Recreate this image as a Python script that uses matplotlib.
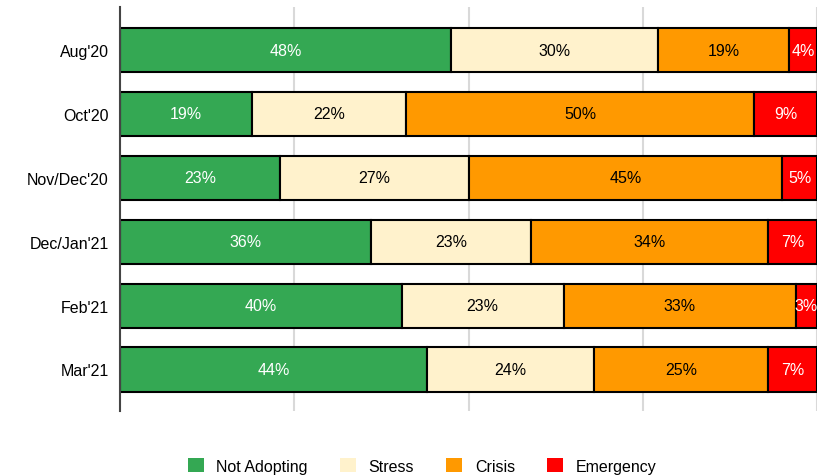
import matplotlib.pyplot as plt
import numpy as np

plt.rcParams['font.family'] = ['Liberation Sans', 'DejaVu Sans']

# Periods (top to bottom) and category shares (%)
periods = ["Aug'20", "Oct'20", "Nov/Dec'20", "Dec/Jan'21", "Feb'21", "Mar'21"]
not_adopting = [48, 19, 23, 36, 40, 44]
stress = [30, 22, 27, 23, 23, 24]
crisis = [19, 50, 45, 34, 33, 25]
emergency = [4, 9, 5, 7, 3, 7]

categories = ['Not Adopting', 'Stress', 'Crisis', 'Emergency']
colors = ['#34a853', '#fff2cc', '#ff9900', '#ff0000']
text_colors = ['white', 'black', 'black', 'white']

data = np.array([not_adopting, stress, crisis, emergency], dtype=float)
widths = data / data.sum(axis=0) * 100  # bars fill the full row

fig = plt.figure(figsize=(8.18, 4.77), dpi=100)
ax = fig.add_axes([120 / 818, (477 - 412) / 477, 697 / 818, 404 / 477])

y = np.arange(len(periods))
left = np.zeros(len(periods))
for i, cat in enumerate(categories):
    ax.barh(y, widths[i], left=left, height=0.69, color=colors[i],
            edgecolor='black', linewidth=1.5, label=cat, zorder=3)
    for j in range(len(periods)):
        ax.text(left[j] + widths[i][j] / 2, y[j], f'{int(data[i][j])}%',
                ha='center', va='center', fontsize=11.5,
                color=text_colors[i], zorder=4)
    left += widths[i]

ax.set_xlim(0, 100)
ax.set_ylim(-0.673, 5.65)
ax.invert_yaxis()
ax.set_yticks(y)
ax.set_yticklabels(periods, fontsize=11.5)
ax.set_xticks([0, 25, 50, 75, 100])
ax.tick_params(axis='x', length=0, labelbottom=False)
ax.tick_params(axis='y', length=0, pad=8)
ax.grid(axis='x', color='#d9d9d9', linewidth=1.5, zorder=0)
for side in ['top', 'right', 'bottom']:
    ax.spines[side].set_visible(False)
ax.spines['left'].set_color('#444444')
ax.spines['left'].set_linewidth(1.5)
ax.spines['left'].set_zorder(5)

leg = fig.legend(loc='center', bbox_to_anchor=(422 / 818, 1 - 467 / 477),
                 ncol=4, frameon=False, fontsize=11.5, handlelength=1.0,
                 handleheight=1.0, handletextpad=0.8, columnspacing=2.0)
for h in leg.legend_handles:
    h.set_edgecolor('none')

fig.savefig('out.png', dpi=100)
plt.close()
